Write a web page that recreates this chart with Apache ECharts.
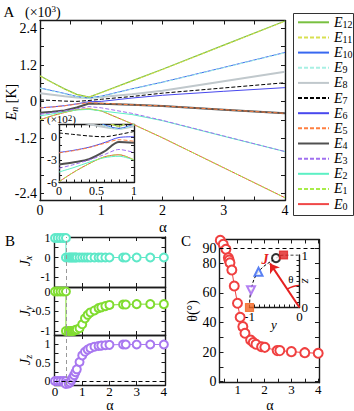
<!DOCTYPE html>
<html>
<head>
<meta charset="utf-8">
<script src="https://cdn.jsdelivr.net/npm/echarts@6/dist/echarts.min.js"></script>
<style>
html, body { margin: 0; padding: 0; background: #fff; }
#main { width: 354px; height: 411px; }
</style>
</head>
<body>
<div id="main"></div>
<script>
// A: energy levels E_n (x10^3 K) vs alpha
var alphaA = [0, 0.2, 0.4, 0.6, 0.8, 1, 1.5, 2, 3, 4]
var E0 = [-0.59, -0.46, -0.35, -0.26, -0.23, -0.3, -0.72, -1.18, -2.16, -3.14]
var E1 = [-0.59, -0.46, -0.35, -0.26, -0.23, -0.3, -0.72, -1.18, -2.16, -3.14]
var E2 = [-0.46, -0.4, -0.33, -0.27, -0.25, -0.3, -0.42, -0.62, -1.13, -1.63]
var E3 = [-0.41, -0.36, -0.3, -0.23, -0.16, -0.2, -0.38, -0.61, -1.12, -1.63]
var E4 = [-0.36, -0.33, -0.29, -0.19, -0.06, -0.07, -0.1, -0.14, -0.26, -0.38]
var E5 = [-0.205, -0.175, -0.135, -0.08, -0.03, -0.05, -0.1, -0.14, -0.26, -0.38]
var E6 = [-0.2, -0.17, -0.13, -0.07, 0, 0.01, 0.12, 0.21, 0.34, 0.46]
var E7 = [0.06, 0.04, 0.02, 0.01, 0.04, 0.08, 0.17, 0.28, 0.45, 0.62]
var E8 = [0.28, 0.23, 0.18, 0.14, 0.12, 0.15, 0.24, 0.36, 0.67, 0.98]
var E9 = [0.44, 0.35, 0.26, 0.16, 0.11, 0.17, 0.41, 0.63, 1.11, 1.6]
var E10 = [0.45, 0.36, 0.27, 0.17, 0.12, 0.18, 0.42, 0.64, 1.12, 1.61]
var E11 = [0.84, 0.62, 0.41, 0.23, 0.15, 0.29, 0.67, 1.05, 1.84, 2.63]
var E12 = [0.85, 0.63, 0.42, 0.24, 0.15, 0.3, 0.68, 1.06, 1.85, 2.64]
var levels = [E0, E1, E2, E3, E4, E5, E6, E7, E8, E9, E10, E11, E12]
var levelNames = ['E0', 'E1', 'E2', 'E3', 'E4', 'E5', 'E6', 'E7', 'E8', 'E9', 'E10', 'E11', 'E12']
var insetCount = 6 // inset shows alpha 0..1, in units of 10^2 K
var yTickValA = [2.4, 1.2, 0, -1.2, -3.0]
var yTickTextA = ['2.4', '1.2', '0', '-1.2', '-2.4']

// B: components of J
var alphaB = [0, 0.1, 0.2, 0.3, 0.4, 0.4, 0.5, 0.55, 0.6, 0.65, 0.7, 0.75, 0.8, 0.9, 1.0, 1.1, 1.2, 1.3, 1.45, 1.6, 1.7, 1.85, 2.0, 2.5, 2.6, 3.0, 3.5, 4.0]
var Jx = [1, 1, 1, 1, 1, 0, 0, 0, 0, 0, 0, 0, 0, 0, 0, 0, 0, 0, 0, 0, 0, 0, 0, 0, 0, 0, 0, 0]
var Jy = [0, 0, 0, 0, 0, -1, -1, -1, -1, -1, -0.99, -0.98, -0.96, -0.93, -0.83, -0.68, -0.59, -0.53, -0.48, -0.42, -0.4, -0.37, -0.34, -0.33, -0.33, -0.32, -0.32, -0.32]
var Jz = [0, 0, 0, 0, 0, -0.08, -0.07, -0.04, 0.02, 0.09, 0.16, 0.24, 0.32, 0.52, 0.7, 0.8, 0.86, 0.9, 0.94, 0.96, 0.97, 0.98, 0.99, 1.0, 1.0, 1.0, 1.0, 1.0]
var transitionAlpha = 0.4

// C: angle theta vs alpha
var alphaC = [0.35, 0.46, 0.56, 0.65, 0.68, 0.71, 0.78, 0.87, 0.99, 1.09, 1.19, 1.27, 1.48, 1.58, 1.68, 1.89, 2.01, 2.47, 2.57, 3.0, 3.5, 4.0]
var thetaC = [95.5, 92.8, 89.5, 83.8, 82.2, 80.4, 75.5, 64.7, 53, 43.5, 37.2, 32.7, 28.2, 26.4, 25.3, 23.6, 23.2, 21, 21, 20.3, 19.6, 19.2]

// C inset: direction of J in the y-z plane
var jPointY = [-1, -0.97, -0.82, -0.47, -0.32]
var jPointZ = [0, 0.33, 0.68, 0.94, 1.0]
var jPathY = [-1, -0.97, -0.82, -0.47, -0.32, 0]
var jPathZ = [0, 0.33, 0.68, 0.94, 1.0, 1.0]
var jArrow = [-0.59, 0.84]

var FONT = 'Liberation Serif'

var levelStyles = [
  { color: '#f04848', type: 'solid', width: 1 },
  { color: '#a8ec4a', type: [4, 2], width: 1 },
  { color: '#5cf0c4', type: 'solid', width: 1 },
  { color: '#a070f0', type: [4, 2], width: 1 },
  { color: '#505050', type: 'solid', width: 2 },
  { color: '#ff7f40', type: [4, 2], width: 1 },
  { color: '#4848ee', type: 'solid', width: 1 },
  { color: '#000000', type: [4, 2], width: 1 },
  { color: '#c0c8cc', type: 'solid', width: 2 },
  { color: '#a8f0e4', type: [4, 2], width: 1 },
  { color: '#3868f0', type: 'solid', width: 1 },
  { color: '#d8e050', type: [4, 2], width: 1 },
  { color: '#78c040', type: 'solid', width: 1.2 }
]
var jMarkStyles = [
  { symbol: 'rect', rotate: 0, color: '#f26522', size: 8 },
  { symbol: 'emptyTriangle', rotate: 180, color: '#a060f0', size: 8 },
  { symbol: 'emptyTriangle', rotate: 0, color: '#3060f0', size: 8 },
  { symbol: 'emptyCircle', rotate: 0, color: '#000000', size: 8 },
  { symbol: 'rect', rotate: 0, color: '#e02020', size: 8 }
]

function zip(xs, ys, k) {
  var out = []
  for (var i = 0; i < xs.length; i++) out.push([xs[i], k ? ys[i] * k : ys[i]])
  return out
}

function axis(grid, pos, min, max, ticks, labels, o) {
  o = o || {}
  return {
    type: 'value', gridIndex: grid, position: pos, min: min, max: max,
    axisLine: { show: true, onZero: false, lineStyle: { color: '#1a1a1a', width: 1.4 } },
    axisTick: { show: true, inside: true, length: o.tickLen || 4, customValues: ticks, lineStyle: { color: '#1a1a1a', width: 1 } },
    axisLabel: labels ? {
      show: true, customValues: labels, margin: o.margin == null ? 3 : o.margin,
      fontFamily: FONT, fontSize: o.size || 14, color: '#000', lineHeight: o.lh || o.size || 14,
      formatter: o.fmt || function (v) { return String(v) }
    } : { show: false },
    splitLine: { show: false }
  }
}

function fmtA(v) {
  var best = 0
  for (var i = 1; i < yTickValA.length; i++) {
    if (Math.abs(yTickValA[i] - v) < Math.abs(yTickValA[best] - v)) best = i
  }
  return yTickTextA[best]
}

var gA = { left: 40, top: 20.5, width: 245, height: 180 }
var gAin = { left: 59, top: 124.5, width: 75, height: 58 }
var gJx = { left: 54.5, top: 237, width: 111, height: 50 }
var gJy = { left: 54.5, top: 287, width: 111, height: 48 }
var gJz = { left: 54.5, top: 335, width: 111, height: 50 }
var gC = { left: 219.5, top: 239.5, width: 99.5, height: 143.2 }
var gCin = { left: 249.5, top: 255, width: 50, height: 52.5 }
var grids = [gA, gAin, gJx, gJy, gJz, gC, gCin].map(function (g) {
  return Object.assign({ containLabel: false, outerBoundsMode: 'none' }, g)
})

var xTA = [0, 0.5, 1, 1.5, 2, 2.5, 3, 3.5, 4]
var xTAin = [0, 0.1, 0.2, 0.3, 0.4, 0.5, 0.6, 0.7, 0.8, 0.9, 1]
var yTA = [-3, -2.4, -1.8, -1.2, -0.6, 0, 0.6, 1.2, 1.8, 2.4]
var yTAin = [-6, -5, -4, -3, -2, -1, 0, 1]
var xTB = [1, 2, 3]
var xTC = [0.5, 1, 1.5, 2, 2.5, 3, 3.5, 4]
var yTC = [0, 10, 20, 30, 40, 50, 60, 70, 80, 90]
var tCin = [0.1, 0.2, 0.3, 0.4, 0.5, 0.6, 0.7, 0.8, 0.9]
var tCinX = [-0.9, -0.8, -0.7, -0.6, -0.5, -0.4, -0.3, -0.2, -0.1]
var bLab = { margin: 4, size: 12, lh: 11 }

var xAxes = [
  axis(0, 'bottom', 0, 4, xTA, [0, 1, 2, 3, 4], { margin: 4, lh: 12 }),
  axis(0, 'top', 0, 4, xTA),
  axis(1, 'bottom', 0, 1, xTAin, [0, 0.5, 1], { size: 12, margin: 2, tickLen: 3 }),
  axis(1, 'top', 0, 1, xTAin, null, { tickLen: 3 }),
  axis(2, 'bottom', -0.02, 4.06, xTB),
  axis(2, 'top', -0.02, 4.06, xTB),
  axis(3, 'bottom', -0.02, 4.06, xTB),
  axis(3, 'top', -0.02, 4.06, xTB),
  axis(4, 'bottom', -0.02, 4.06, xTB, [0, 1, 2, 3, 4], { margin: 1, size: 13, lh: 11 }),
  axis(4, 'top', -0.02, 4.06, xTB),
  axis(5, 'bottom', 0.32, 4.03, xTC, [1, 2, 3, 4], { margin: 1, size: 13, lh: 11 }),
  axis(5, 'top', 0.32, 4.03, xTC),
  axis(6, 'bottom', -1, 0, tCinX, [-1, 0], { size: 13, margin: 2, tickLen: 3 })
]
var yAxes = [
  axis(0, 'left', -3.23, 2.655, yTA, yTickValA, { fmt: fmtA }),
  axis(0, 'right', -3.23, 2.655, yTA),
  axis(1, 'left', -6, 1.73, yTAin, [0, -3, -6], { size: 12, margin: 2, tickLen: 3 }),
  axis(1, 'right', -6, 1.73, yTAin, null, { tickLen: 3 }),
  axis(2, 'left', -1.51, 1.05, [-1, -0.5, 0, 0.5, 1], [-1, 0, 1], bLab),
  axis(2, 'right', -1.51, 1.05, [-1, -0.5, 0, 0.5, 1]),
  axis(3, 'left', -1.101, 0.114, [-1, -0.75, -0.5, -0.25, 0], [-1, -0.5, 0], bLab),
  axis(3, 'right', -1.101, 0.114, [-1, -0.75, -0.5, -0.25, 0]),
  axis(4, 'left', -0.11, 1.26, [0, 0.25, 0.5, 0.75, 1], [0, 0.5, 1], bLab),
  axis(4, 'right', -0.11, 1.26, [0, 0.25, 0.5, 0.75, 1]),
  axis(5, 'left', -0.7, 96.1, yTC, [0, 20, 40, 60, 80, 90], { margin: 3 }),
  axis(5, 'right', -0.7, 96.1, yTC),
  axis(6, 'right', 0, 1, tCin, [0, 1], { size: 13, margin: 2, tickLen: 3 })
]

var series = []
// main levels and inset
levels.forEach(function (vals, i) {
  var st = levelStyles[i]
  var dashed = st.type !== 'solid'
  series.push({
    type: 'line', name: levelNames[i], xAxisIndex: 0, yAxisIndex: 0,
    data: zip(alphaA, vals), symbol: 'none', z: dashed ? 3 : 2,
    lineStyle: { color: st.color, type: st.type, width: st.width },
    itemStyle: { color: st.color }
  })
  series.push({
    type: 'line', name: levelNames[i], xAxisIndex: 2, yAxisIndex: 2,
    data: zip(alphaA.slice(0, insetCount), vals.slice(0, insetCount), 10),
    symbol: 'none', smooth: 0.3, z: dashed ? 3 : 2,
    lineStyle: { color: st.color, type: st.type, width: st.width },
    itemStyle: { color: st.color }
  })
})

var refLines = {
  silent: true, symbol: 'none', label: { show: false },
  data: [{ xAxis: transitionAlpha, lineStyle: { color: '#999', type: [4, 3], width: 1 } }]
}
function jSeries(vals, axisIdx, color, extraMarks) {
  var ml = JSON.parse(JSON.stringify(refLines))
  if (extraMarks) ml.data = ml.data.concat(extraMarks)
  return {
    type: 'line', xAxisIndex: axisIdx, yAxisIndex: axisIdx,
    data: zip(alphaB, vals), symbol: 'emptyCircle', symbolSize: 8,
    lineStyle: { color: color, width: 1 }, itemStyle: { color: color, borderWidth: 1.2 },
    markLine: ml
  }
}
series.push(jSeries(Jx, 4, '#5ee8c8'))
series.push(jSeries(Jy, 6, '#80dc30'))
series.push(jSeries(Jz, 8, '#a878f0', [{ yAxis: 0, lineStyle: { color: '#000', type: [4, 3], width: 1 } }]))

series.push({
  type: 'line', xAxisIndex: 10, yAxisIndex: 10,
  data: zip(alphaC, thetaC), symbol: 'emptyCircle', symbolSize: 9,
  lineStyle: { color: '#f04040', width: 1 }, itemStyle: { color: '#f04040', borderWidth: 1.2 },
  markLine: {
    silent: true, symbol: 'none', label: { show: false },
    data: [{ yAxis: 90, lineStyle: { color: '#000', type: [4, 3], width: 1 } }]
  }
})

series.push({
  type: 'line', xAxisIndex: 12, yAxisIndex: 12,
  data: zip(jPathY, jPathZ), symbol: 'none', smooth: 0.4,
  lineStyle: { color: '#000', type: [3, 2], width: 1 },
  markLine: {
    silent: true, symbol: ['none', 'arrow'], symbolSize: 9, label: { show: false },
    lineStyle: { color: '#e52020', width: 2, type: 'solid' },
    data: [[{ coord: [0, 0] }, { coord: jArrow }]]
  }
})
series.push({
  type: 'scatter', xAxisIndex: 12, yAxisIndex: 12, z: 5,
  data: jPointY.map(function (y, i) {
    var s = jMarkStyles[i]
    return {
      value: [y, jPointZ[i]], symbol: s.symbol, symbolRotate: s.rotate, symbolSize: s.size,
      itemStyle: { color: s.color, borderColor: s.color, borderWidth: 1.2 }
    }
  })
})

var richBase = {
  i: { fontFamily: FONT, fontStyle: 'italic', fontSize: 14, lineHeight: 16 },
  n: { fontFamily: FONT, fontSize: 14, lineHeight: 16 },
  sub: { fontFamily: FONT, fontStyle: 'italic', fontSize: 10, lineHeight: 10, verticalAlign: 'bottom' },
  sup: { fontFamily: FONT, fontSize: 9, lineHeight: 9, verticalAlign: 'top' }
}
function txt(x, y, text, size, extra) {
  var el = {
    type: 'text', x: x, y: y, silent: true,
    style: {
      text: text, fontFamily: FONT, fontSize: size, fill: '#000',
      align: 'center', verticalAlign: 'middle', textAlign: 'center', textVerticalAlign: 'middle',
      rich: richBase
    }
  }
  if (extra) {
    if (extra.rotation) el.rotation = extra.rotation
    Object.assign(el.style, extra.style || {})
  }
  return el
}
var cx0 = gCin.left + gCin.width
var cy0 = gCin.top + gCin.height
var graphics = [
  txt(9, 12, 'A', 15),
  txt(25, 12, '{n|(×10}{sup|3}{n|)}', 14, { style: { align: 'left', textAlign: 'left' } }),
  txt(11, 102, '{i|E}{sub|n}{n| [K]}', 14, { rotation: Math.PI / 2 }),
  txt(163, 227, 'α', 15, { style: { lineHeight: 12 } }),
  txt(47, 119, '(×10{sup|2})', 11, { style: { align: 'left', textAlign: 'left' } }),
  txt(10, 241, 'B', 15),
  txt(25, 261, '{i|J}{sub|x}', 14, { rotation: Math.PI / 2 }),
  txt(25, 311, '{i|J}{sub|y}', 14, { rotation: Math.PI / 2 }),
  txt(25, 360, '{i|J}{sub|z}', 14, { rotation: Math.PI / 2 }),
  txt(110, 405, 'α', 14, { style: { lineHeight: 11 } }),
  txt(186, 241, 'C', 15),
  txt(192, 311, 'θ(°)', 14, { rotation: Math.PI / 2 }),
  txt(270, 405, 'α', 14, { style: { lineHeight: 11 } }),
  txt(265, 259, 'J', 14, { style: { fill: '#e52020', fontStyle: 'italic', fontWeight: 'bold' } }),
  txt(291, 279, 'θ', 11),
  txt(306, 281, 'z', 13, { rotation: -Math.PI / 2, style: { fontStyle: 'italic' } }),
  txt(274, 324, 'y', 13, { style: { fontStyle: 'italic' } }),
  {
    type: 'arc', silent: true,
    shape: { cx: cx0, cy: cy0, r: 22, startAngle: -Math.PI / 2 - 0.59, endAngle: -Math.PI / 2, clockwise: true },
    style: { stroke: '#e52020', fill: 'none', lineWidth: 1.5 }
  },
  {
    type: 'rect', silent: true,
    shape: { x: 293.5, y: 13.5, width: 60, height: 202 },
    style: { stroke: '#333', fill: 'none', lineWidth: 1 }
  }
]

var chart = echarts.init(document.getElementById('main'), null, { renderer: 'svg' })
chart.setOption({
  animation: false,
  backgroundColor: '#fff',
  grid: grids,
  xAxis: xAxes,
  yAxis: yAxes,
  legend: {
    data: levelNames.slice().reverse(),
    orient: 'vertical', left: 297, top: 15.3, padding: 0,
    itemWidth: 31, itemHeight: 14, itemGap: 1.15,
    selectedMode: false,
    itemStyle: { color: 'rgba(0,0,0,0)', borderColor: 'rgba(0,0,0,0)', borderWidth: 0, opacity: 0 },
    formatter: function (name) { return '{e|E}{s|' + name.slice(1) + '}' },
    textStyle: {
      color: '#000',
      rich: {
        e: { fontFamily: FONT, fontStyle: 'italic', fontSize: 14, lineHeight: 14 },
        s: { fontFamily: FONT, fontSize: 10, lineHeight: 9, verticalAlign: 'bottom' }
      }
    }
  },
  graphic: graphics,
  series: series
})
</script>
</body>
</html>
